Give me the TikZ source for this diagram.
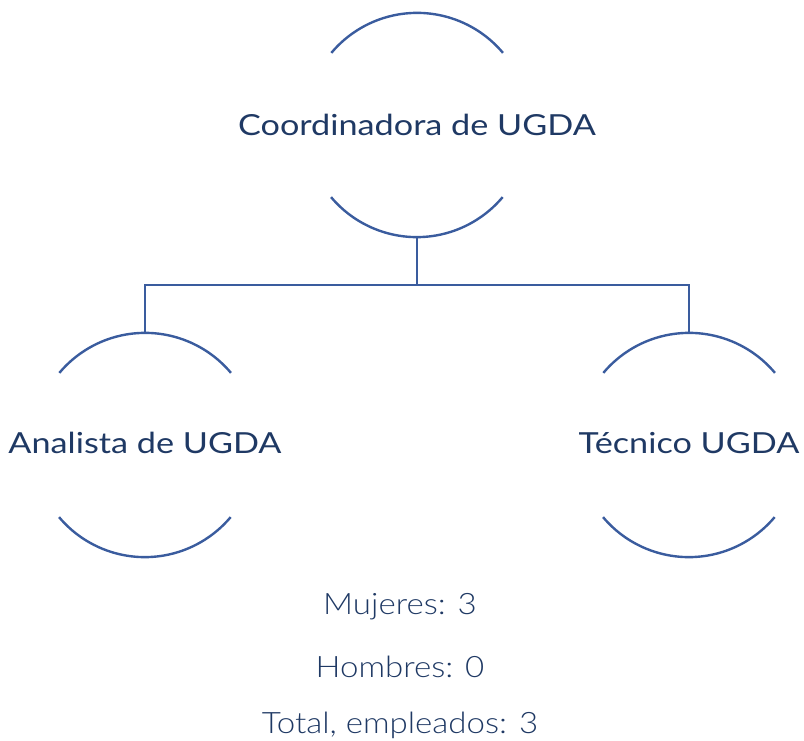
\documentclass[tikz,border=0pt]{standalone}
\usepackage{fontspec}
\setmainfont{Lato}[FakeStretch=1.18]
\newfontfamily\lightfont{Lato Light}[FakeStretch=1.12]
\definecolor{linec}{HTML}{3A5C9E}
\definecolor{textc}{HTML}{1F3964}
\begin{document}
\begin{tikzpicture}[x=1pt,y=-1pt,
  ring/.style={circle,minimum size=224pt,inner sep=0pt,draw=none},
  lbl/.style={text=textc,font=\fontsize{29}{34}\selectfont,inner sep=0pt,anchor=center},
  stat/.style={text=textc,font=\lightfont\fontsize{29.5}{34}\selectfont,inner sep=0pt,anchor=center},
  arcline/.style={draw=linec,line width=2.4pt},
  conn/.style={draw=linec,line width=2.4pt}]
\useasboundingbox (0,0) rectangle (804,741);
\node[ring] (c) at (417,125) {};
\node[ring] (a) at (145,445) {};
\node[ring] (t) at (689,445) {};
\foreach \n in {c,a,t}{
  \draw[arcline] (\n.40) arc[start angle=40,end angle=140,radius=112pt];
  \draw[arcline] (\n.220) arc[start angle=220,end angle=320,radius=112pt];
}
\node[lbl] (cl) at (417,125) {Coordinadora de UGDA};
\node[lbl] (al) at (145,443) {Analista de UGDA};
\node[lbl] (tl) at (689,443) {Técnico UGDA};
\coordinate (bar) at (417,285);
\draw[conn] (c.south) -- (bar);
\draw[conn] (a.north) |- (bar) -| (t.north);
\node[stat] (m) at (400,607) {Mujeres: 3};
\node[stat] (h) at (400,667) {Hombres: 0};
\node[stat] (tot) at (400,725) {Total, empleados: 3};
\end{tikzpicture}
\end{document}
